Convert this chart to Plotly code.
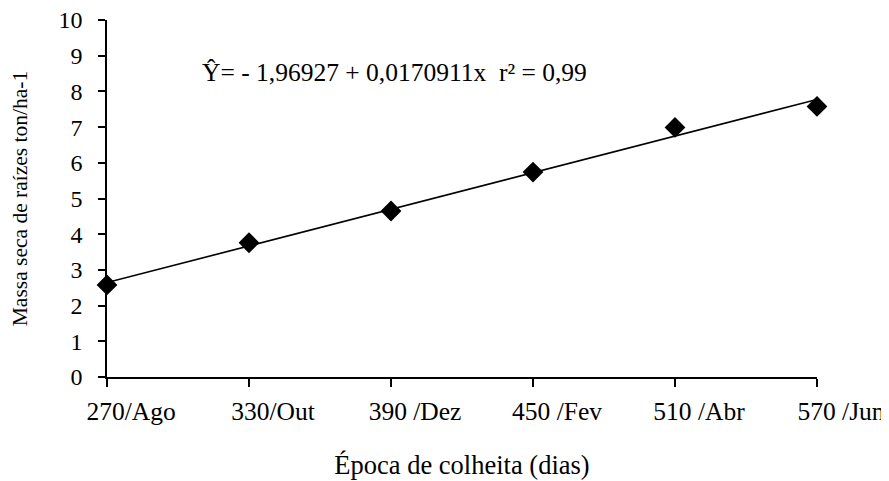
import plotly.graph_objects as go

days = [270, 330, 390, 450, 510, 570]
tick_labels = ["270/Ago", "330/Out", "390 /Dez", "450 /Fev", "510 /Abr", "570 /Jun"]
massa = [2.58, 3.76, 4.65, 5.74, 6.99, 7.58]
intercept = -1.96927
slope = 0.0170911
y_ticks = list(range(0, 11))

font = "Liberation Serif"

fit_x = [days[0], days[-1]]
fit_y = [intercept + slope * d for d in fit_x]

fig = go.Figure()
fig.add_trace(go.Scatter(x=fit_x, y=fit_y, mode="lines",
                         line=dict(color="black", width=1.6), showlegend=False,
                         hoverinfo="skip", cliponaxis=False))
fig.add_trace(go.Scatter(x=days, y=massa, mode="markers",
                         marker=dict(symbol="diamond", size=16, color="black"),
                         showlegend=False, cliponaxis=False))

fig.add_annotation(x=0.131, y=0.852, xref="paper", yref="paper",
                   xanchor="left", yanchor="middle", showarrow=False,
                   text="Ŷ= - 1,96927 + 0,0170911x  r² = 0,99",
                   font=dict(family=font, size=25.5, color="black"))

fig.update_layout(
    width=881, height=473,
    margin=dict(l=99, r=72, t=12, b=104),
    paper_bgcolor="white", plot_bgcolor="white",
    font=dict(family=font, size=25, color="black"),
    xaxis=dict(range=[270, 570], tickvals=days, ticktext=tick_labels,
               tickfont=dict(family=font, size=25.5),
               showline=True, linecolor="black", linewidth=1.6,
               ticks="outside", ticklen=8, tickcolor="black", tickwidth=1.6,
               showgrid=False, zeroline=False, ticklabelshift=24,
               ticklabelstandoff=3, automargin=False,
               ticklabeloverflow="allow",
               title=dict(text="Época de colheita (dias)", standoff=30,
                          font=dict(family=font, size=26.5))),
    yaxis=dict(range=[0, 10], tickvals=y_ticks,
               tickfont=dict(family=font, size=24),
               showline=True, linecolor="black", linewidth=1.6,
               ticks="outside", ticklen=7, tickcolor="black", tickwidth=1.6,
               showgrid=False, zeroline=False, automargin=False,
               ticklabelstandoff=11, ticklabeloverflow="allow",
               title=dict(text="Massa seca de raízes ton/ha-1", standoff=32,
                          font=dict(family=font, size=21.5))),
)

fig.write_html("out.html")
